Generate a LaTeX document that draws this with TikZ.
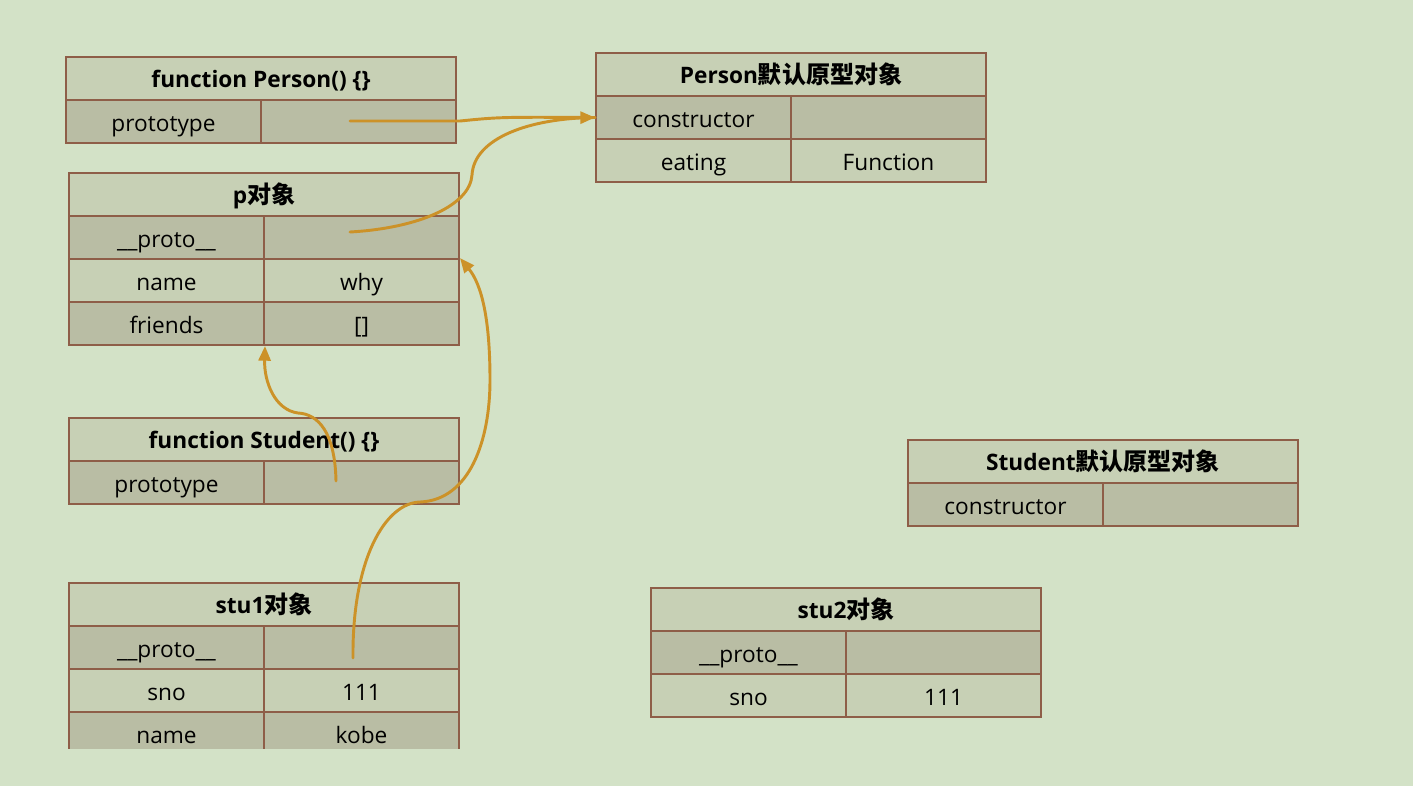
\documentclass[tikz,border=0pt]{standalone}
\usepackage{fontspec}
\setmainfont{Open Sans}
\newfontfamily\cjk[Scale=1.06]{Noto Sans CJK SC}
\usetikzlibrary{arrows.meta}
\definecolor{bg}{RGB}{211,226,199}
\definecolor{hd}{RGB}{199,208,181}
\definecolor{gr}{RGB}{185,189,164}
\definecolor{bd}{RGB}{142,94,72}
\definecolor{ar}{RGB}{204,146,40}
\newcommand\bodyfnt{\fontsize{17pt}{19pt}\selectfont}
\newcommand\hdrfnt{\fontsize{17pt}{19pt}\selectfont\bfseries}
\begin{document}
\begin{tikzpicture}[x=0.75pt,y=-0.75pt,
  cell/.style={draw=bd, line width=1.5pt, inner sep=0pt, anchor=north west, minimum height=32.25pt, text=black},
  hcell/.style={cell, fill=hd, minimum width=292.5pt, font=\hdrfnt, text height=18pt, text depth=4pt},
  gcell/.style={cell, fill=gr, minimum width=146.25pt, font=\bodyfnt, text height=17.5pt, text depth=3.1pt},
  lcell/.style={cell, fill=hd, minimum width=146.25pt, font=\bodyfnt, text height=17.5pt, text depth=3.1pt},
  link/.style={draw=ar, line width=2.2pt, line cap=round},
  tip/.style={-{Triangle[length=11pt,width=9pt]}}]
\fill[bg] (0,0) rectangle (1413,786);
\useasboundingbox (0,0) rectangle (1413,786);
% function Person
\node[hcell] (pf-h) at (65,56) {function Person() \{\}};
\node[gcell] (pf-k1) at (65,99) {prototype};
\node[gcell] (pf-v1) at (260,99) {};
% Person prototype
\node[hcell] (pp-h) at (595,52) {Person{\cjk 默认原型对象}};
\node[gcell] (pp-k1) at (595,95) {constructor};
\node[gcell] (pp-v1) at (790,95) {};
\node[lcell] (pp-k2) at (595,138) {eating};
\node[lcell] (pp-v2) at (790,138) {Function};
% p object
\node[hcell] (p-h) at (68,172) {p{\cjk 对象}};
\node[gcell] (p-k1) at (68,215) {\_\_proto\_\_};
\node[gcell] (p-v1) at (263,215) {};
\node[lcell] (p-k2) at (68,258) {name};
\node[lcell] (p-v2) at (263,258) {why};
\node[gcell] (p-k3) at (68,301) {friends};
\node[gcell] (p-v3) at (263,301) {[]};
% function Student
\node[hcell] (sf-h) at (68,417) {function Student() \{\}};
\node[gcell] (sf-k1) at (68,460) {prototype};
\node[gcell] (sf-v1) at (263,460) {};
% Student prototype
\node[hcell] (sp-h) at (907,439) {Student{\cjk 默认原型对象}};
\node[gcell] (sp-k1) at (907,482) {constructor};
\node[gcell] (sp-v1) at (1102,482) {};
% stu1
\begin{scope}
\clip (0,0) rectangle (1413,748);
\node[hcell] (s1-h) at (68,582) {stu1{\cjk 对象}};
\node[gcell] (s1-k1) at (68,625) {\_\_proto\_\_};
\node[gcell] (s1-v1) at (263,625) {};
\node[lcell] (s1-k2) at (68,668) {sno};
\node[lcell] (s1-v2) at (263,668) {111};
\node[gcell] (s1-k3) at (68,711) {name};
\node[gcell] (s1-v3) at (263,711) {kobe};
\end{scope}
% stu2
\node[hcell] (s2-h) at (650,587) {stu2{\cjk 对象}};
\node[gcell] (s2-k1) at (650,630) {\_\_proto\_\_};
\node[gcell] (s2-v1) at (845,630) {};
\node[lcell] (s2-k2) at (650,673) {sno};
\node[lcell] (s2-v2) at (845,673) {111};
% connector start points
\coordinate (a1) at (350,121);
\coordinate (a2) at (350,232);
\coordinate (a3) at (336,481);
\coordinate (a4) at (353,658);
% connectors
\draw[link] (a1) -- (460,121) .. controls (500,117) .. (pp-k1.west);
\draw[link] (a2) .. controls (420,228) and (470,205) .. (472,175)
  .. controls (474,138) and (530,118) .. (pp-k1.west);
\draw[link,tip] (pp-k1.west) ++(-30,0.3) -- (pp-k1.west);
\draw[link,tip] (a3) .. controls (335,432) and (318,414) .. (298,413)
  .. controls (275,410) and (264,382) .. (p-k3.south east);
\draw[link,tip] (a4) .. controls (352,560) and (385,503) .. (420,502)
  .. controls (470,500) and (490,440) .. (490,380)
  .. controls (490,320) and (482,285) .. (p-v2.north east);
\end{tikzpicture}
\end{document}
